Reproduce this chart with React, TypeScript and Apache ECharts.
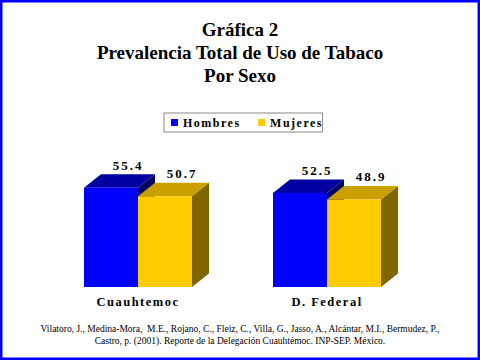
import React, { useEffect, useRef } from "react";
import * as echarts from "echarts";

const categories = ["Cuauhtemoc", "D. Federal"];
const hombres = [55.4, 52.5];
const mujeres = [50.7, 48.9];
const seriesNames = ["Hombres", "Mujeres"];
const titleLines = ["Gráfica 2", "Prevalencia Total de Uso de Tabaco", "Por Sexo"];
const footerLines = [
  "Vilatoro, J., Medina-Mora,  M.E., Rojano, C., Fleiz, C., Villa, G., Jasso, A., Alcántar, M.I., Bermudez, P.,",
  "Castro, p. (2001). Reporte de la Delegación Cuauhtémoc. INP-SEP. México.",
];

const SERIF = "'Liberation Serif', 'Times New Roman', serif";
const BAR_RATIO = 54 / 189;
const DX = 17;
const DY = 13.5;

const palettes = [
  { front: "#0000FF", top: "#0000A0", side: "#000066" },
  { front: "#FFCC00", top: "#C9A000", side: "#806600" },
];

function makeRender(idx: number) {
  return (params: any, api: any) => {
    const cat = api.value(0);
    const v = api.value(1);
    const [cx, y] = api.coord([cat, v]);
    const y0 = api.coord([cat, 0])[1];
    const band = api.size([1, 0])[0];
    const w = band * BAR_RATIO;
    const x0 = idx === 0 ? cx - w : cx;
    const x1 = x0 + w;
    const p = palettes[idx];
    return {
      type: "group",
      children: [
        {
          type: "polygon",
          shape: { points: [[x1, y], [x1 + DX, y - DY], [x1 + DX, y0 - DY], [x1, y0]] },
          style: { fill: p.side },
        },
        {
          type: "polygon",
          shape: { points: [[x0, y], [x0 + DX, y - DY], [x1 + DX, y - DY], [x1, y]] },
          style: { fill: p.top },
        },
        {
          type: "rect",
          shape: { x: x0, y: y, width: w, height: y0 - y },
          style: { fill: p.front },
        },
        {
          type: "text",
          style: {
            text: v.toFixed(1),
            x: (x0 + x1) / 2 + DX,
            y: y - DY - 9,
            align: "center",
            verticalAlign: "middle",
            fill: "#000",
            font: `bold 13px ${SERIF}`,
          },
        },
      ],
    };
  };
}

export default function App() {
  const ref = useRef<HTMLDivElement>(null);
  useEffect(() => {
    if (!ref.current) return;
    const chart = echarts.init(ref.current, undefined, { renderer: "svg" });
    const option: any = {
      animation: false,
      backgroundColor: "#fff",
      title: {
        text: titleLines.join("\n"),
        left: "center",
        top: 13,
        textStyle: {
          fontFamily: SERIF,
          fontSize: 19,
          fontWeight: "bold",
          color: "#000",
          lineHeight: 23,
        },
      },
      legend: {
        data: seriesNames,
        left: 164,
        top: 113,
        padding: [3, 10, 3, 7],
        itemWidth: 7,
        itemHeight: 7,
        itemGap: 28,
        icon: "rect",
        borderColor: "#888",
        borderWidth: 1,
        backgroundColor: "#fff",
        textStyle: {
          fontFamily: SERIF,
          fontSize: 12,
          fontWeight: "bold",
          color: "#000",
          lineHeight: 13,
        },
      },
      grid: { left: 43.5, right: 58.5, top: 161.7, bottom: 73 },
      xAxis: {
        type: "category",
        data: categories,
        axisLine: { show: false },
        axisTick: { show: false },
        axisLabel: {
          margin: 8,
          fontFamily: SERIF,
          fontSize: 12.5,
          fontWeight: "bold",
          color: "#000",
        },
      },
      yAxis: { type: "value", min: 0, max: 70, show: false },
      series: [
        {
          name: seriesNames[0],
          type: "custom",
          renderItem: makeRender(0),
          itemStyle: { color: palettes[0].front },
          encode: { x: 0, y: 1 },
          data: hombres.map((v, i) => [i, v]),
        },
        {
          name: seriesNames[1],
          type: "custom",
          renderItem: makeRender(1),
          itemStyle: { color: palettes[1].front },
          encode: { x: 0, y: 1 },
          data: mujeres.map((v, i) => [i, v]),
        },
      ],
      graphic: [
        {
          type: "rect",
          shape: { x: 1.2, y: 1.2, width: 477.6, height: 357.6 },
          style: { fill: "transparent", stroke: "#0000FF", lineWidth: 2.5 },
          silent: true,
        },
        {
          type: "text",
          x: 240,
          y: 328.5,
          style: {
            text: footerLines[0],
            align: "center",
            verticalAlign: "middle",
            font: `9.5px ${SERIF}`,
            fill: "#000",
          },
          silent: true,
        },
        {
          type: "text",
          x: 240,
          y: 340.5,
          style: {
            text: footerLines[1],
            align: "center",
            verticalAlign: "middle",
            font: `9.5px ${SERIF}`,
            fill: "#000",
          },
          silent: true,
        },
      ],
    };
    chart.setOption(option);
    const spacing: Record<string, string> = {};
    seriesNames.forEach((s) => (spacing[s] = "1.5"));
    categories.forEach((s) => (spacing[s] = "1.5"));
    [...hombres, ...mujeres].forEach((v) => (spacing[v.toFixed(1)] = "2"));
    ref.current.querySelectorAll("text").forEach((t) => {
      const s = (t.textContent || "").trim();
      if (spacing[s]) t.setAttribute("letter-spacing", spacing[s]);
    });
    return () => chart.dispose();
  }, []);
  return (
    <div
      ref={ref}
      style={{ position: "absolute", left: 0, top: 0, width: 480, height: 360, background: "#fff" }}
    />
  );
}
